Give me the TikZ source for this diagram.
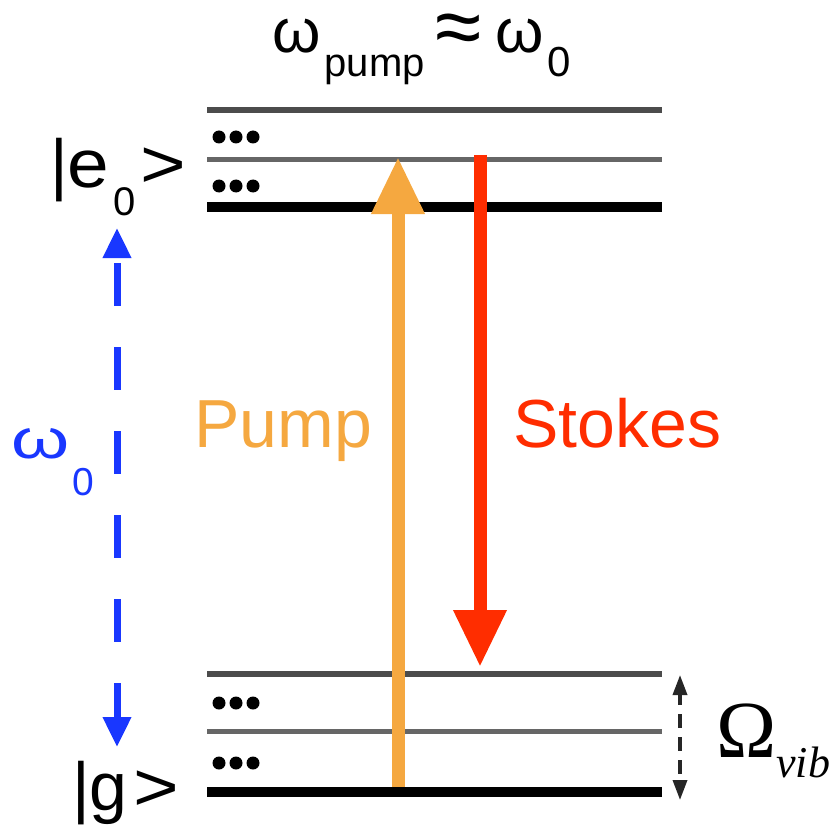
\documentclass[tikz,border=0pt]{standalone}
\usepackage{fontspec}
\setmainfont{Liberation Sans}
\newfontfamily\serifom{Liberation Serif}
\usepackage{tikz}
\usetikzlibrary{arrows.meta, positioning, calc}
\usepackage{xcolor}
\definecolor{pumpcol}{RGB}{245,168,64}
\definecolor{stokescol}{RGB}{255,45,0}
\definecolor{omegacol}{RGB}{25,55,255}

\newcommand{\fsz}[1]{\fontsize{#1}{#1}\selectfont}

\begin{document}
\begin{tikzpicture}[x=1pt, y=-1pt,
  level/.style={line width=6pt, black!70},
  sublevel/.style={line width=5pt, black!60},
  ground/.style={line width=10pt, black},
  label/.style={inner sep=0pt, anchor=base west},
  transition/.style={line width=13pt, -{Triangle[length=57pt, width=50pt]}},
  gap/.style={line width=7pt, omegacol, {Triangle[length=30pt, width=27pt]}-{Triangle[length=30pt, width=27pt]},
              dash pattern=on 43pt off 41pt, dash phase=77pt},
  spacing/.style={line width=3.5pt, black!85, {Triangle[length=20pt, width=14pt]}-{Triangle[length=20pt, width=14pt]},
                  dash pattern=on 14pt off 9pt, dash phase=3pt}
]
  \useasboundingbox (0,0) rectangle (835,837);

  % excited state manifold
  \draw[level]    (207,110) -- (662,110);
  \draw[sublevel] (207,160) -- (662,160);
  \draw[ground]   (207,207) -- (662,207);
  % ground state manifold
  \draw[level]    (207,674) -- (662,674);
  \draw[sublevel] (207,731) -- (662,731);
  \draw[ground]   (207,792) -- (662,792);

  \foreach \y in {137,186,703,763}
    \foreach \x in {219,236,253}
      \fill (\x,\y) circle (6.5pt);

  \node[label] (e0) at (50,187)
    {\fsz{68}|\scalebox{1.1}[1]{e}\hspace{4pt}\raisebox{-28pt}{\fsz{40}0}\hspace{5pt}\scalebox{1.15}[1]{>}};
  \node[label] (g) at (72,810) {\fsz{68}|g\hspace{6pt}\scalebox{1.15}[1]{>}};

  \node[label] (title) at (272,53)
    {\fsz{62}ω\hspace{4pt}\raisebox{-24pt}{\fsz{40}pump}\hspace{11pt}%
     \raisebox{-3pt}{\fsz{84}≈}\hspace{14pt}ω\hspace{3pt}\raisebox{-24pt}{\fsz{42}0}};

  % transitions
  \coordinate (pumpS)   at (398,787);
  \coordinate (pumpE)   at (398,157);
  \coordinate (stokesS) at (480,155);
  \coordinate (stokesE) at (480,667);
  \draw[transition, pumpcol]   (pumpS) -- (pumpE);
  \draw[transition, stokescol] (stokesS) -- (stokesE);

  \node[label, text=pumpcol]   (pump)   at (194,447) {\fsz{68}Pump};
  \node[label, text=stokescol] (stokes) at (513,447) {\fsz{68}Stokes};

  % transition frequency
  \coordinate (w0top) at (117,228);
  \coordinate (w0bot) at (117,747);
  \draw[gap] (w0top) -- (w0bot);
  \node[label, text=omegacol] (w0) at (11,458)
    {\fsz{54}\scalebox{1.38}[1.03]{ω}\hspace{3pt}\raisebox{-37pt}{\fsz{39}0}};

  % vibrational spacing
  \coordinate (vibtop) at (680,675);
  \coordinate (vibbot) at (680,800);
  \draw[spacing] (vibtop) -- (vibbot);
  \node[label] (vib) at (716,757)
    {\serifom\fsz{81}Ω\raisebox{-20pt}{\fsz{44}\itshape vib}};
\end{tikzpicture}
\end{document}
